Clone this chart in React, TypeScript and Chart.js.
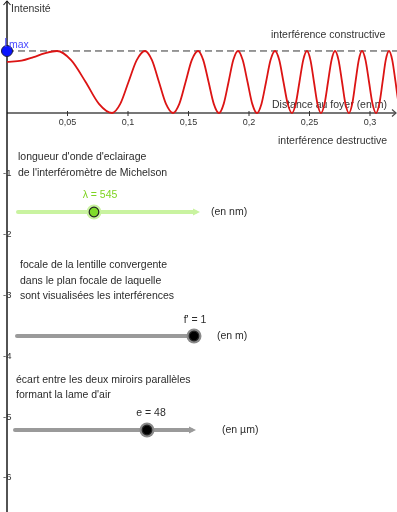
import React, { useEffect, useRef } from 'react';
import { Chart, registerables } from 'chart.js';

Chart.register(...registerables);

// Intensity curve (x in m, y in intensity units)
const curveX = [
  0, 0.012, 0.022, 0.031, 0.0413,
  0.053, 0.065, 0.076, 0.0868,
  0.0936, 0.1004, 0.1072, 0.114,
  0.1198, 0.1256, 0.1314, 0.1372,
  0.1424, 0.1476, 0.1527, 0.1579,
  0.1622, 0.1666, 0.1709, 0.1752,
  0.1791, 0.1831, 0.187, 0.1909,
  0.1948, 0.1988, 0.2027, 0.2066,
  0.2103, 0.2141, 0.2178, 0.2215,
  0.225, 0.2285, 0.232, 0.2355,
  0.2386, 0.2417, 0.2448, 0.2479,
  0.2508, 0.2537, 0.2566, 0.2595,
  0.2624, 0.2653, 0.2682, 0.2711,
  0.274, 0.2769, 0.2797, 0.2826,
  0.2853, 0.288, 0.2907, 0.2934,
  0.2963, 0.2992, 0.3021, 0.305,
  0.3077, 0.3104, 0.313, 0.3157,
  0.3184, 0.3211, 0.3237, 0.3264,
];
const curveY = [
  0.84, 0.86, 0.92, 0.98, 1.02,
  0.87, 0.51, 0.15, 0,
  0.15, 0.51, 0.87, 1.02,
  0.87, 0.51, 0.15, 0,
  0.15, 0.51, 0.87, 1.02,
  0.87, 0.51, 0.15, 0,
  0.15, 0.51, 0.87, 1.02,
  0.87, 0.51, 0.15, 0,
  0.15, 0.51, 0.87, 1.02,
  0.87, 0.51, 0.15, 0,
  0.15, 0.51, 0.87, 1.02,
  0.87, 0.51, 0.15, 0,
  0.15, 0.51, 0.87, 1.02,
  0.87, 0.51, 0.15, 0,
  0.15, 0.51, 0.87, 1.02,
  0.87, 0.51, 0.15, 0,
  0.15, 0.51, 0.87, 1.02,
  0.87, 0.51, 0.15, 0,
];
const imaxValue = 1.02;
const xTickValues = [0.05, 0.1, 0.15, 0.2, 0.25, 0.3];
const xTickLabels = ['0,05', '0,1', '0,15', '0,2', '0,25', '0,3'];
const yTickValues = [-1, -2, -3, -4, -5, -6];
const yTickLabels = ['-1', '-2', '-3', '-4', '-5', '-6'];
const lambdaLabel = 'λ = 545';
const focalLabel = "f' = 1";
const gapLabel = 'e = 48';

const X_MIN = -7 / 1210;
const X_MAX = 390 / 1210;
const Y_MAX = 113 / 60.8;
const Y_MIN = -(512 - 113) / 60.8;

const FONT = "'Liberation Sans', Arial, sans-serif";

function drawSlider(
  ctx: CanvasRenderingContext2D,
  x1: number,
  x2: number,
  y: number,
  knobX: number,
  lineColor: string,
  knobFill: string,
  haloColor: string,
  arrow: boolean
) {
  ctx.save();
  ctx.strokeStyle = lineColor;
  ctx.lineWidth = 4;
  ctx.lineCap = 'round';
  ctx.beginPath();
  ctx.moveTo(x1, y);
  ctx.lineTo(arrow ? x2 - 4 : x2, y);
  ctx.stroke();
  if (arrow) {
    ctx.fillStyle = lineColor;
    ctx.beginPath();
    ctx.moveTo(x2 - 6, y - 3.5);
    ctx.lineTo(x2 + 1, y);
    ctx.lineTo(x2 - 6, y + 3.5);
    ctx.closePath();
    ctx.fill();
  }
  ctx.fillStyle = haloColor;
  ctx.beginPath();
  ctx.arc(knobX, y, 7.5, 0, Math.PI * 2);
  ctx.fill();
  ctx.fillStyle = knobFill;
  ctx.strokeStyle = '#222';
  ctx.lineWidth = 1.2;
  ctx.beginPath();
  ctx.arc(knobX, y, 4.8, 0, Math.PI * 2);
  ctx.fill();
  ctx.stroke();
  ctx.restore();
}

const overlayPlugin = {
  id: 'ggbOverlay',
  beforeDatasetsDraw(chart: any) {
    const { ctx, scales, chartArea } = chart;
    const xs = scales.x;
    const ys = scales.y;
    const x0 = xs.getPixelForValue(0);
    const y0 = ys.getPixelForValue(0);
    ctx.save();
    // x axis
    ctx.strokeStyle = '#4a4a4a';
    ctx.lineWidth = 1.6;
    ctx.beginPath();
    ctx.moveTo(x0, y0);
    ctx.lineTo(chartArea.right - 1, y0);
    ctx.stroke();
    ctx.lineWidth = 1.2;
    ctx.beginPath();
    ctx.moveTo(chartArea.right - 5, y0 - 3.5);
    ctx.lineTo(chartArea.right - 1, y0);
    ctx.lineTo(chartArea.right - 5, y0 + 3.5);
    ctx.stroke();
    // x ticks
    ctx.strokeStyle = '#333';
    ctx.lineWidth = 1;
    ctx.fillStyle = '#333';
    ctx.font = `9px ${FONT}`;
    ctx.textAlign = 'center';
    ctx.textBaseline = 'middle';
    xTickValues.forEach((v, i) => {
      const px = xs.getPixelForValue(v);
      ctx.beginPath();
      ctx.moveTo(px, y0 - 2);
      ctx.lineTo(px, y0 + 3);
      ctx.stroke();
      ctx.fillText(xTickLabels[i], px, y0 + 10);
    });
    // y axis
    ctx.strokeStyle = '#1a1a1a';
    ctx.lineWidth = 1.5;
    ctx.beginPath();
    ctx.moveTo(x0, chartArea.top + 1);
    ctx.lineTo(x0, chartArea.bottom);
    ctx.stroke();
    ctx.lineWidth = 1.1;
    ctx.beginPath();
    ctx.moveTo(x0 - 3.5, chartArea.top + 5);
    ctx.lineTo(x0, chartArea.top + 1);
    ctx.lineTo(x0 + 3.5, chartArea.top + 5);
    ctx.stroke();
    // y tick labels
    ctx.textAlign = 'left';
    ctx.fillStyle = '#333';
    ctx.font = `9.5px ${FONT}`;
    yTickValues.forEach((v, i) => {
      const py = ys.getPixelForValue(v);
      ctx.fillText(yTickLabels[i], x0 - 4, py);
    });
    // axis titles and annotations
    ctx.font = `10.5px ${FONT}`;
    ctx.fillStyle = '#333';
    ctx.fillText('Intensité', x0 + 4, 9);
    ctx.fillText('interférence constructive', 271, 35);
    ctx.fillText('Distance au foyer (en m)', 272, 105);
    ctx.fillText('interférence destructive', 278, 141);
    ctx.restore();
  },
  afterDatasetsDraw(chart: any) {
    const { ctx, scales } = chart;
    const x0 = scales.x.getPixelForValue(0);
    const yMax = scales.y.getPixelForValue(imaxValue);
    ctx.save();
    // Imax label
    ctx.fillStyle = '#4a4aff';
    ctx.textBaseline = 'alphabetic';
    ctx.textAlign = 'left';
    ctx.font = `13px ${FONT}`;
    ctx.fillText('I', x0 - 3, yMax - 4);
    ctx.font = `10.5px ${FONT}`;
    ctx.fillText('max', x0 + 2, yMax - 3);

    ctx.textBaseline = 'middle';
    ctx.font = `10.5px ${FONT}`;
    ctx.fillStyle = '#2b2b2b';
    // slider 1 texts
    ctx.fillText("longueur d'onde d'eclairage", 18, 157);
    ctx.fillText("de l'interféromètre de Michelson", 18, 173);
    ctx.fillText('(en nm)', 211, 212);
    // slider 2 texts
    ctx.fillText('focale de la lentille convergente', 20, 265);
    ctx.fillText('dans le plan focale de laquelle', 20, 281);
    ctx.fillText('sont visualisées les interférences', 20, 296);
    ctx.fillText('(en m)', 217, 336);
    // slider 3 texts
    ctx.fillText('écart entre les deux miroirs parallèles', 16, 380);
    ctx.fillText("formant la lame d'air", 16, 395);
    ctx.fillText('(en µm)', 222, 430);

    ctx.textAlign = 'center';
    ctx.fillStyle = '#7ed321';
    ctx.fillText(lambdaLabel, 100, 195);
    ctx.fillStyle = '#2b2b2b';
    ctx.fillText(focalLabel, 195, 320);
    ctx.fillText(gapLabel, 151, 413);

    drawSlider(ctx, 18, 199, 212, 94, '#c9f3a0', '#7fdc2a', '#c9f3a0', true);
    drawSlider(ctx, 17, 192, 336, 194, '#9a9a9a', '#000', '#8a8a8a', false);
    drawSlider(ctx, 15, 195, 430, 147, '#9a9a9a', '#000', '#8a8a8a', true);
    ctx.restore();
  },
};

export default function App() {
  const canvasRef = useRef<HTMLCanvasElement | null>(null);

  useEffect(() => {
    if (!canvasRef.current) return;
    const curve = curveX.map((x, i) => ({ x, y: curveY[i] }));
    const chart = new Chart(canvasRef.current, {
      type: 'line',
      data: {
        datasets: [
          {
            label: 'Imax',
            data: [{ x: 0, y: imaxValue }],
            showLine: false,
            pointRadius: 5.5,
            pointBackgroundColor: '#0a14ff',
            pointBorderColor: '#1a1a40',
            pointBorderWidth: 1,
            order: 0,
          },
          {
            label: 'Intensité',
            data: curve,
            borderColor: '#dc1414',
            borderWidth: 1.8,
            pointRadius: 0,
            cubicInterpolationMode: 'monotone',
            fill: false,
            order: 1,
          },
          {
            label: 'max',
            data: [
              { x: 0, y: imaxValue },
              { x: X_MAX, y: imaxValue },
            ],
            borderColor: '#333',
            borderWidth: 1,
            borderDash: [7, 4],
            pointRadius: 0,
            fill: false,
            order: 2,
          },
        ],
      },
      options: {
        animation: false,
        responsive: true,
        maintainAspectRatio: false,
        devicePixelRatio: 1,
        layout: { padding: 0, autoPadding: false },
        plugins: { legend: { display: false }, tooltip: { enabled: false } },
        events: [],
        scales: {
          x: { type: 'linear', min: X_MIN, max: X_MAX, display: false },
          y: { type: 'linear', min: Y_MIN, max: Y_MAX, display: false },
        },
      },
      plugins: [overlayPlugin],
    } as any);
    return () => chart.destroy();
  }, []);

  return (
    <div
      style={{
        position: 'absolute',
        left: 0,
        top: 0,
        width: 397,
        height: 512,
        background: '#fff',
        overflow: 'hidden',
      }}
    >
      <canvas ref={canvasRef} style={{ display: 'block' }} />
    </div>
  );
}
